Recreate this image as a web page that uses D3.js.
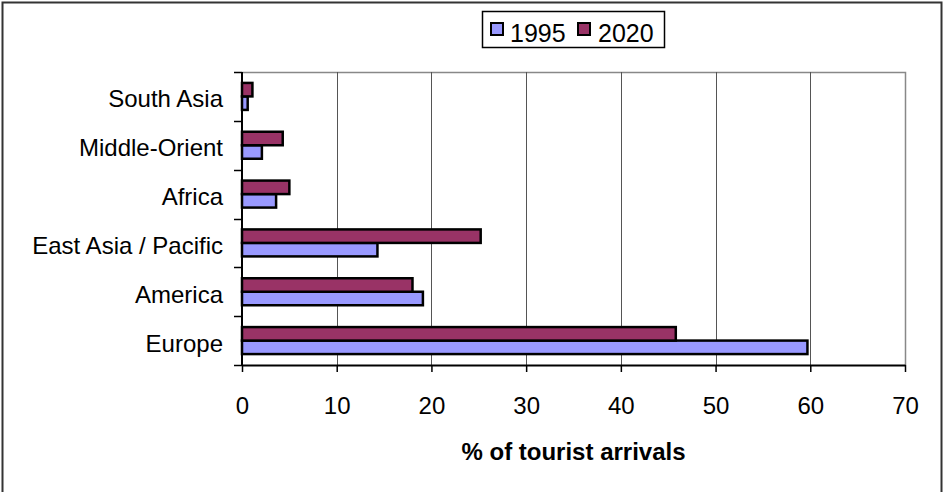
<!DOCTYPE html>
<html>
<head>
<meta charset="utf-8">
<script src="https://cdn.jsdelivr.net/npm/d3@7/dist/d3.min.js"></script>
<style>
  html, body { margin: 0; padding: 0; background: #fff; }
  svg { display: block; font-family: "Liberation Sans", Arial, sans-serif; }
</style>
</head>
<body>
<svg id="chart" width="943" height="492"></svg>
<script>
// Regions, listed bottom to top as they appear on the chart
const regions = ["Europe", "America", "East Asia / Pacific", "Africa", "Middle-Orient", "South Asia"];
const years = ["1995", "2020"];
const share1995 = [59.7, 19.1, 14.3, 3.6, 2.1, 0.6];
const share2020 = [45.8, 18.0, 25.2, 5.0, 4.3, 1.1];
const xTicks = [0, 10, 20, 30, 40, 50, 60, 70];
const colors = { "1995": "#9999FF", "2020": "#993366" };
const axisTitle = "% of tourist arrivals";

const svg = d3.select("#chart");

// outer frame
svg.append("rect")
  .attr("x", 2.5).attr("y", 2.5).attr("width", 939).attr("height", 500)
  .attr("fill", "#fff").attr("stroke", "#333").attr("stroke-width", 2);

const plot = { left: 242, right: 905, top: 72, bottom: 365 };

const x = d3.scaleLinear().domain([0, 70]).range([plot.left, plot.right]);
const y = d3.scaleBand().domain(regions.slice().reverse()).range([plot.top, plot.bottom]);
const inner = d3.scaleBand().domain(["2020", "1995"]).range([0, 27]);

// plot area border (top and right)
svg.append("path")
  .attr("d", `M${plot.left},${plot.top + 0.5}H${plot.right + 0.5}V${plot.bottom}`)
  .attr("fill", "none").attr("stroke", "#888").attr("stroke-width", 1.5);

// vertical gridlines
svg.append("g").selectAll("line")
  .data(xTicks.filter(t => t > 0 && t < 70))
  .join("line")
  .attr("x1", d => Math.round(x(d)) + 0.5).attr("x2", d => Math.round(x(d)) + 0.5)
  .attr("y1", plot.top).attr("y2", plot.bottom)
  .attr("stroke", "#555").attr("stroke-width", 1);

// bars
const rows = regions.map((r, i) => ({ region: r, "1995": share1995[i], "2020": share2020[i] }));
const groups = svg.append("g").selectAll("g")
  .data(rows)
  .join("g")
  .attr("transform", d => `translate(0,${y(d.region) + (y.bandwidth() - 27) / 2})`);

groups.selectAll("rect")
  .data(d => years.map(k => ({ key: k, value: d[k] })))
  .join("rect")
  .attr("x", x(0))
  .attr("y", d => inner(d.key))
  .attr("width", d => x(d.value) - x(0))
  .attr("height", inner.bandwidth())
  .attr("fill", d => colors[d.key])
  .attr("stroke", "#000")
  .attr("stroke-width", 2.5);

// x axis
const xAxis = svg.append("g")
  .attr("transform", `translate(0,${plot.bottom})`)
  .call(d3.axisBottom(x).tickValues(xTicks).tickSize(7).tickSizeOuter(0).tickPadding(25));
xAxis.select(".domain").attr("stroke", "#000").attr("stroke-width", 2);
xAxis.selectAll(".tick line").attr("stroke", "#000").attr("stroke-width", 1.5);
xAxis.selectAll(".tick text")
  .attr("font-size", 24).attr("fill", "#000")
  .attr("font-family", "'Liberation Sans', Arial, sans-serif");

// y axis: ticks on category boundaries
const yAxis = svg.append("g").attr("transform", `translate(${plot.left},0)`);
const boundaries = regions.map(r => y(r)).concat([plot.bottom]);
yAxis.selectAll("line.tk")
  .data(boundaries)
  .join("line")
  .attr("class", "tk")
  .attr("x1", -8).attr("x2", 0)
  .attr("y1", d => Math.round(d) + 0.5).attr("y2", d => Math.round(d) + 0.5)
  .attr("stroke", "#000").attr("stroke-width", 1.5);
yAxis.append("line")
  .attr("x1", 0).attr("x2", 0).attr("y1", plot.top).attr("y2", plot.bottom + 1)
  .attr("stroke", "#000").attr("stroke-width", 2);
yAxis.selectAll("text")
  .data(regions)
  .join("text")
  .attr("x", -19)
  .attr("y", d => y(d) + y.bandwidth() / 2 + 11)
  .attr("text-anchor", "end")
  .attr("font-size", 24)
  .attr("fill", "#000")
  .text(d => d);

// axis title
svg.append("text")
  .attr("x", (plot.left + plot.right) / 2)
  .attr("y", 460)
  .attr("text-anchor", "middle")
  .attr("font-size", 24)
  .attr("font-weight", "bold")
  .attr("fill", "#000")
  .text(axisTitle);

// legend
const legend = svg.append("g");
legend.append("rect")
  .attr("x", 482.5).attr("y", 11.5).attr("width", 182).attr("height", 36)
  .attr("fill", "#fff").attr("stroke", "#000").attr("stroke-width", 1.5);
const legendX = [{ key: "1995", sx: 491, tx: 510 }, { key: "2020", sx: 578, tx: 598 }];
legendX.forEach(item => {
  legend.append("rect")
    .attr("x", item.sx).attr("y", 23).attr("width", 12).attr("height", 12)
    .attr("fill", colors[item.key]).attr("stroke", "#000").attr("stroke-width", 2);
  legend.append("text")
    .attr("x", item.tx).attr("y", 42)
    .attr("font-size", 25).attr("fill", "#000")
    .text(item.key);
});
</script>
</body>
</html>
